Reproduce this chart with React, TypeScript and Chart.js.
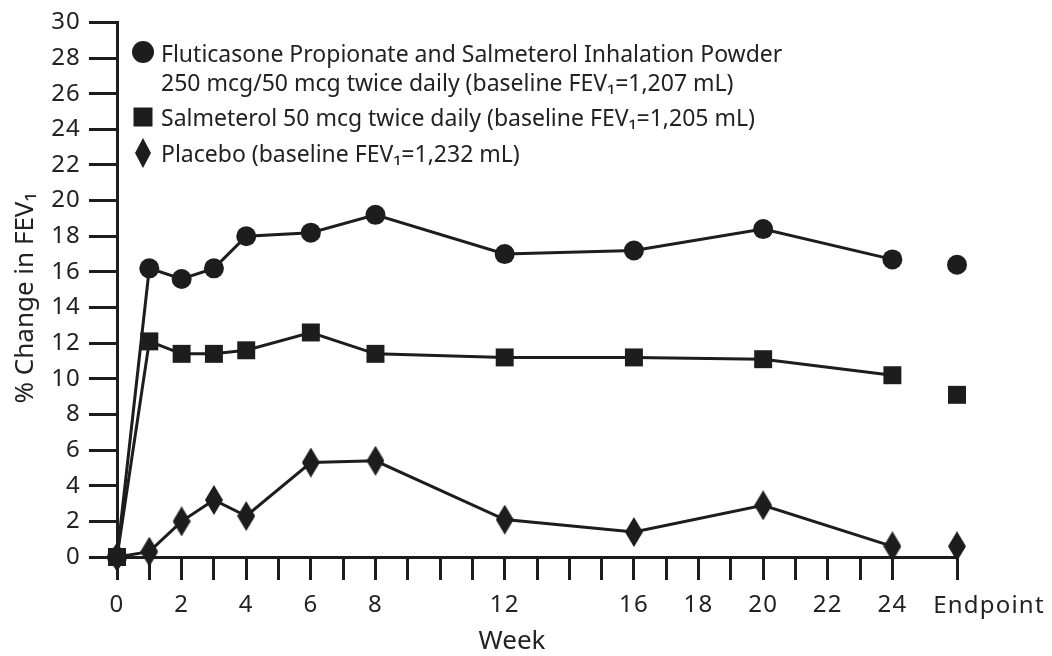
import React, { useEffect, useRef } from "react";
import { Chart, registerables } from "chart.js";

Chart.register(...registerables);

// ---- data ----
const weeks = [0, 1, 2, 3, 4, 6, 8, 12, 16, 20, 24];
const fluticasone = [0, 16.2, 15.6, 16.2, 18.0, 18.2, 19.2, 17.0, 17.2, 18.4, 16.7];
const salmeterol = [0, 12.1, 11.4, 11.4, 11.6, 12.6, 11.4, 11.2, 11.2, 11.1, 10.2];
const placebo = [0, 0.3, 2.0, 3.2, 2.3, 5.3, 5.4, 2.1, 1.4, 2.9, 0.6];

const endpointWeek = 26;
const fluticasoneEndpoint = [16.4];
const salmeterolEndpoint = [9.1];
const placeboEndpoint = [0.6];

const xTickWeeks = [0, 1, 2, 3, 4, 5, 6, 7, 8, 9, 10, 11, 12, 13, 14, 15, 16, 17, 18, 19, 20, 21, 22, 23, 24, 26];
const xTickLabelWeeks = [0, 2, 4, 6, 8, 12, 16, 18, 20, 22, 24];
const endpointLabel = "Endpoint";
const yTickValues = [0, 2, 4, 6, 8, 10, 12, 14, 16, 18, 20, 22, 24, 26, 28, 30];

const legendFluticasone = [
  "Fluticasone Propionate and Salmeterol Inhalation Powder",
  "250 mcg/50 mcg twice daily (baseline FEV\u2081=1,207 mL)",
];
const legendSalmeterol = "Salmeterol 50 mcg twice daily (baseline FEV\u2081=1,205 mL)";
const legendPlacebo = "Placebo (baseline FEV\u2081=1,232 mL)";
const yTitle = "% Change in FEV\u2081";
const xTitle = "Week";

// ---- styles ----
const INK = "#1d1d1d";
const TEXT = "#222222";
const FONT_FAMILY = '"Noto Sans", "DejaVu Sans", sans-serif';
const LEGEND_SIZE = 23;
const TICK_SIZE = 24;
const TITLE_SIZE = 26;

function makeDiamond(w: number, h: number): HTMLCanvasElement {
  const c = document.createElement("canvas");
  c.width = w;
  c.height = h;
  const g = c.getContext("2d")!;
  g.fillStyle = INK;
  g.beginPath();
  g.moveTo(w / 2, 0);
  g.lineTo(w, h / 2);
  g.lineTo(w / 2, h);
  g.lineTo(0, h / 2);
  g.closePath();
  g.fill();
  return c;
}

function toPoints(xs: number[], ys: number[]) {
  return xs.map((x, i) => ({ x, y: ys[i] }));
}

export default function App() {
  const ref = useRef<HTMLCanvasElement>(null);

  useEffect(() => {
    document.body.style.margin = "0";
    const canvas = ref.current!;
    const diamond = makeDiamond(18, 30);
    const legendDiamond = makeDiamond(16, 30);

    const spacingPlugin = {
      id: "tickSpacing",
      beforeDraw(chart: any) {
        (chart.ctx as any).letterSpacing = "1.2px";
      },
    };

    const textPlugin = {
      id: "customText",
      afterDraw(chart: any) {
        const ctx: CanvasRenderingContext2D = chart.ctx;
        ctx.save();
        // endpoint tick label (sits to the right of its tick in the original)
        (ctx as any).letterSpacing = "1.2px";
        ctx.fillStyle = TEXT;
        ctx.font = `${TICK_SIZE}px ${FONT_FAMILY}`;
        ctx.textAlign = "center";
        ctx.textBaseline = "alphabetic";
        const ex = chart.scales.x.getPixelForValue(endpointWeek);
        ctx.fillText(endpointLabel, ex + 32, 613);

        (ctx as any).letterSpacing = "0px";
        ctx.font = `${LEGEND_SIZE}px ${FONT_FAMILY}`;
        ctx.textAlign = "left";
        // legend text
        ctx.fillText(legendFluticasone[0], 161, 62);
        ctx.fillText(legendFluticasone[1], 161, 91);
        ctx.fillText(legendSalmeterol, 161, 126);
        ctx.fillText(legendPlacebo, 161, 162);
        // legend markers
        ctx.fillStyle = INK;
        ctx.beginPath();
        ctx.arc(143, 52, 11, 0, Math.PI * 2);
        ctx.fill();
        ctx.fillRect(143 - 9.5, 117 - 9.5, 19, 19);
        ctx.drawImage(legendDiamond, 143 - 8, 153 - 15);
        // axis titles
        ctx.fillStyle = TEXT;
        ctx.font = `${TITLE_SIZE}px ${FONT_FAMILY}`;
        ctx.textAlign = "center";
        ctx.fillText(xTitle, 512, 649);
        ctx.translate(33, 298);
        ctx.rotate(-Math.PI / 2);
        ctx.fillText(yTitle, 0, 0);
        ctx.restore();
      },
    };

    const lineBase = {
      borderColor: INK,
      backgroundColor: INK,
      borderWidth: 3,
      pointBackgroundColor: INK,
      pointBorderWidth: 0,
      tension: 0,
      clip: false as const,
    };

    const chart = new Chart(canvas, {
      type: "line",
      data: {
        datasets: [
          { ...lineBase, label: "Placebo", data: toPoints(weeks, placebo), pointStyle: diamond as any, pointRadius: 10 },
          { ...lineBase, label: "Salmeterol", data: toPoints(weeks, salmeterol), pointStyle: "rect", pointRadius: 12.7 },
          { ...lineBase, label: "Fluticasone", data: toPoints(weeks, fluticasone), pointStyle: "circle", pointRadius: 10 },
          { ...lineBase, label: "Placebo endpoint", showLine: false, data: toPoints([endpointWeek], placeboEndpoint), pointStyle: diamond as any, pointRadius: 10 },
          { ...lineBase, label: "Salmeterol endpoint", showLine: false, data: toPoints([endpointWeek], salmeterolEndpoint), pointStyle: "rect", pointRadius: 12.7 },
          { ...lineBase, label: "Fluticasone endpoint", showLine: false, data: toPoints([endpointWeek], fluticasoneEndpoint), pointStyle: "circle", pointRadius: 10 },
        ],
      },
      options: {
        responsive: false,
        animation: false,
        events: [],
        layout: { padding: { top: 17, right: 95, left: 0, bottom: 0 } },
        plugins: { legend: { display: false }, tooltip: { enabled: false } },
        scales: {
          x: {
            type: "linear",
            min: 0,
            max: endpointWeek,
            afterBuildTicks: (s: any) => {
              s.ticks = xTickWeeks.map((v) => ({ value: v }));
            },
            afterFit: (s: any) => {
              s.height = 99;
            },
            ticks: {
              autoSkip: false,
              maxRotation: 0,
              minRotation: 0,
              padding: 11,
              color: TEXT,
              font: { family: FONT_FAMILY, size: TICK_SIZE },
              callback: (v: any) => (xTickLabelWeeks.includes(v) ? String(v) : ""),
            },
            grid: { drawOnChartArea: false, drawTicks: true, tickLength: 23, lineWidth: 3, color: INK },
            border: { display: true, color: INK, width: 3 },
          },
          y: {
            min: 0,
            max: 30,
            afterBuildTicks: (s: any) => {
              s.ticks = yTickValues.map((v) => ({ value: v }));
            },
            afterFit: (s: any) => {
              s.width = 117;
            },
            ticks: {
              padding: 8,
              color: TEXT,
              font: { family: FONT_FAMILY, size: TICK_SIZE },
              callback: (v: any) => String(v),
            },
            grid: { drawOnChartArea: false, drawTicks: true, tickLength: 28, lineWidth: 3, color: INK },
            border: { display: true, color: INK, width: 3 },
          },
        },
      },
      plugins: [spacingPlugin, textPlugin],
    });
    return () => chart.destroy();
  }, []);

  return (
    <div style={{ width: 1052, height: 656 }}>
      <canvas ref={ref} width={1052} height={656} style={{ display: "block", width: 1052, height: 656 }} />
    </div>
  );
}
